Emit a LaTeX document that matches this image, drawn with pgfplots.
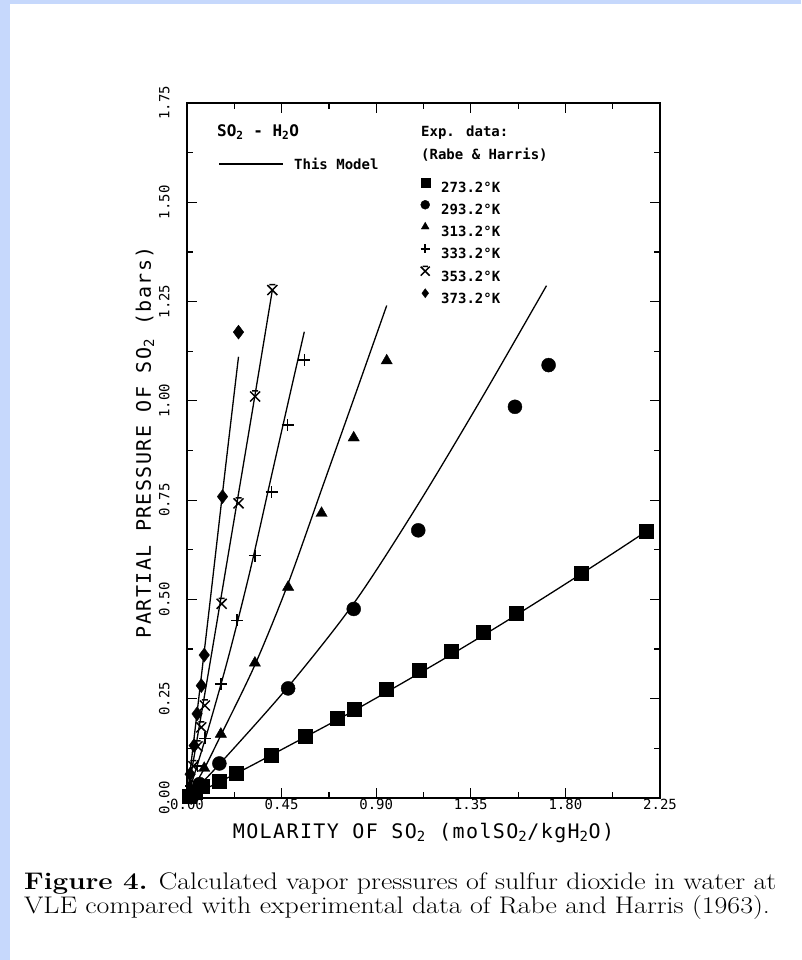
\documentclass[border=0pt]{standalone}
\usepackage{pgfplots}
\pgfplotsset{compat=1.18}
\usepackage{fontspec}
\newfontfamily\plotfont{DejaVu Sans Mono}
\newfontfamily\labelfont[LetterSpace=7]{DejaVu Sans Mono}
\usetikzlibrary{plotmarks}

\definecolor{frameblue}{RGB}{198,216,252}

% x with a bar on top, used for the 353.2 K series
\pgfdeclareplotmark{xbar}{%
  \pgfpathmoveto{\pgfqpoint{-\pgfplotmarksize}{-\pgfplotmarksize}}%
  \pgfpathlineto{\pgfqpoint{\pgfplotmarksize}{\pgfplotmarksize}}%
  \pgfpathmoveto{\pgfqpoint{-\pgfplotmarksize}{\pgfplotmarksize}}%
  \pgfpathlineto{\pgfqpoint{\pgfplotmarksize}{-\pgfplotmarksize}}%
  \pgfpathmoveto{\pgfqpoint{-0.6\pgfplotmarksize}{1.1\pgfplotmarksize}}%
  \pgfpathlineto{\pgfqpoint{0.6\pgfplotmarksize}{1.1\pgfplotmarksize}}%
  \pgfusepathqstroke}

\begin{document}
\begin{tikzpicture}[x=1pt,y=1pt]
\useasboundingbox (0,0) rectangle (801,960);
\fill[frameblue] (0,0) rectangle (801,960);
\fill[white] (10,0) rectangle (801,956);

\begin{axis}[
    at={(187pt,162pt)}, anchor=south west,
    scale only axis, width=473pt, height=695pt,
    xmin=0, xmax=2.25, ymin=0, ymax=1.75,
    xtick={0,0.45,0.9,1.35,1.8,2.25},
    xticklabels={0.00,0.45,0.90,1.35,1.80,2.25},
    ytick={0,0.25,0.5,0.75,1,1.25,1.5,1.75},
    yticklabels={0.00,0.25,0.50,0.75,1.00,1.25,1.50,1.75},
    minor x tick num=1, minor y tick num=1,
    tick align=inside,
    major tick length=10pt, minor tick length=6pt,
    tick style={black, line width=1.2pt},
    axis line style={line width=2.4pt},
    tick label style={font=\plotfont\fontsize{14}{14}\selectfont},
    yticklabel style={rotate=90, anchor=south},
    yticklabel shift=14pt,
    xticklabel shift=-2pt,
    xlabel={MOLARITY OF SO\textsubscript{2} (molSO\textsubscript{2}/kgH\textsubscript{2}O)},
    ylabel={PARTIAL PRESSURE OF SO\textsubscript{2} (bars)},
    label style={font=\labelfont\fontsize{20}{20}\selectfont},
    xlabel style={at={(axis description cs:0.5,-0.05)}, anchor=center},
    ylabel style={at={(axis description cs:-0.089,0.512)}, anchor=center},
    clip=false,
    legend cell align=left,
    legend style={at={(rel axis cs:0.4937,0.892)}, anchor=north west,
        draw=none, fill=none, inner sep=0pt, row sep=6pt,
        font=\plotfont\bfseries\fontsize{14}{14}\selectfont,
        nodes={inner sep=1.5pt, text height=10pt, text depth=0pt},
        /tikz/every odd column/.append style={column sep=10pt}},
    legend image code/.code={\draw[#1, mark size=4.5pt] plot coordinates {(0pt,5pt)};},
]

% experimental data, Rabe & Harris
\addplot[only marks, mark=square*, mark size=7pt] coordinates {
  (0.01,0.005) (0.04,0.015) (0.07,0.03) (0.155,0.043) (0.235,0.063)
  (0.40,0.108) (0.56,0.155) (0.713,0.201) (0.793,0.224) (0.946,0.273)
  (1.104,0.321) (1.256,0.369) (1.409,0.418) (1.565,0.466) (1.876,0.567)
  (2.184,0.671)};
\addlegendentry{273.2°K}
\addplot[only marks, mark=*, mark size=7pt] coordinates {
  (0.02,0.01) (0.06,0.035) (0.154,0.087) (0.481,0.276) (0.793,0.476)
  (1.100,0.674) (1.560,0.985) (1.720,1.090)};
\addlegendentry{293.2°K}
\addplot[only marks, mark=triangle*, mark size=6.5pt] coordinates {
  (0.03,0.02) (0.082,0.075) (0.161,0.161) (0.323,0.340) (0.481,0.531)
  (0.640,0.717) (0.793,0.907) (0.950,1.101)};
\addlegendentry{313.2°K}
\addplot[only marks, mark=+, mark size=6pt, line width=1.5pt] coordinates {
  (0.02,0.03) (0.05,0.08) (0.085,0.15) (0.161,0.287) (0.238,0.447)
  (0.323,0.610) (0.403,0.770) (0.479,0.939) (0.558,1.103)};
\addlegendentry{333.2°K}
\addplot[only marks, mark=xbar, mark size=5pt, line width=1.5pt] coordinates {
  (0.03,0.08) (0.05,0.13) (0.068,0.178) (0.085,0.233) (0.165,0.489)
  (0.245,0.742) (0.324,1.011) (0.406,1.279)};
\addlegendentry{353.2°K}
\addplot[only marks, mark=diamond*, mark size=7pt] coordinates {
  (0.015,0.06) (0.034,0.132) (0.048,0.212) (0.068,0.283) (0.082,0.360)
  (0.169,0.759) (0.245,1.173)};
\addlegendentry{373.2°K}

% model curves
\pgfplotsset{every axis plot post/.append style={forget plot}}
\addplot[no marks, smooth, line width=1.3pt] coordinates {
  (0,0) (0.25,0.066) (0.5,0.136) (0.75,0.207) (1.0,0.282) (1.25,0.359)
  (1.5,0.439) (1.75,0.522) (2.0,0.607) (2.184,0.671)};
\addplot[no marks, smooth, line width=1.3pt] coordinates {
  (0,0) (0.154,0.085) (0.481,0.28) (0.8,0.495) (1.1,0.74)
  (1.4,1.005) (1.71,1.29)};
\addplot[no marks, smooth, line width=1.3pt] coordinates {
  (0,0) (0.08,0.072) (0.161,0.158) (0.323,0.335) (0.481,0.54) (0.649,0.79)
  (0.8,1.015) (0.95,1.24)};
\addplot[no marks, smooth, line width=1.3pt] coordinates {
  (0,0) (0.1,0.172) (0.2,0.361) (0.3,0.572) (0.395,0.795) (0.5,1.04) (0.558,1.174)};
\addplot[no marks, smooth, line width=1.3pt] coordinates {
  (0,0) (0.1,0.31) (0.2,0.625) (0.3,0.94) (0.406,1.279)};
\addplot[no marks, smooth, line width=1.3pt] coordinates {
  (0,0) (0.1,0.45) (0.176,0.80) (0.245,1.111)};
\end{axis}

% texts inside the frame
\node[anchor=west, inner sep=0pt, font=\plotfont\bfseries\fontsize{16}{16}\selectfont]
  at (217,960-132) {SO\textsubscript{2} - H\textsubscript{2}O};
\draw[line width=1.3pt] (219,960-164) -- (283,960-164);
\node[anchor=west, inner sep=0pt, font=\plotfont\bfseries\fontsize{14}{14}\selectfont]
  at (294,960-164) {This Model};
\node[anchor=west, inner sep=0pt, font=\plotfont\bfseries\fontsize{14}{14}\selectfont]
  at (421,960-133) {Exp. data:};
\node[anchor=west, inner sep=0pt, font=\plotfont\bfseries\fontsize{14}{14}\selectfont]
  at (421,960-155) {(Rabe \& Harris)};

% caption
\node[anchor=base west, inner sep=0pt, font=\fontsize{24}{24}\selectfont]
  at (24,960-890) {\scalebox{1.16}[1]{\textbf{Figure 4.} Calculated vapor pressures of sulfur dioxide in water at}};
\node[anchor=base west, inner sep=0pt, font=\fontsize{24}{24}\selectfont]
  at (24,960-914) {\scalebox{1.16}[1]{VLE compared with experimental data of Rabe and Harris (1963).}};
\end{tikzpicture}
\end{document}
